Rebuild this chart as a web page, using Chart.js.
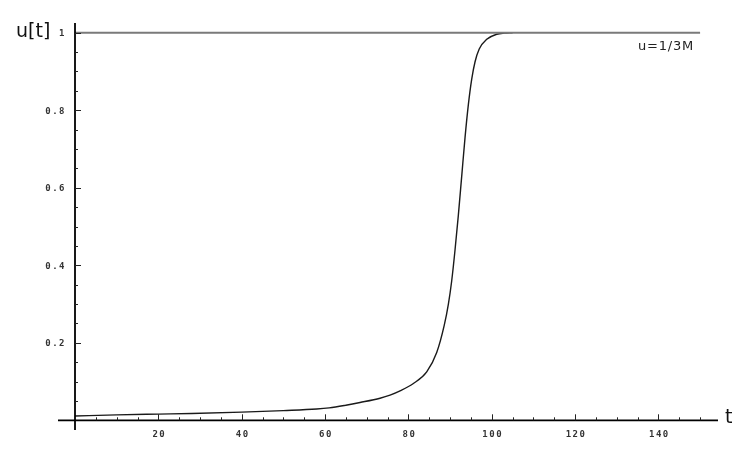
<!DOCTYPE html>
<html>
<head>
<meta charset="utf-8">
<script src="https://cdn.jsdelivr.net/npm/chart.js@4/dist/chart.umd.min.js"></script>
<style>
html,body{margin:0;padding:0;background:#fff;}
canvas{display:block;}
</style>
</head>
<body>
<canvas id="c" width="747" height="462"></canvas>
<script>
// ---- data ----
const tValues = [0, 10, 20, 28, 40, 50, 58, 61, 65, 68.4, 73.2, 75.6, 78, 81.2, 84.4, 86.8, 88.6, 89.6, 90.4, 91.2, 92, 92.8, 93.6, 94.4, 95.2, 96, 97, 98.8, 101.2, 103, 105];
const uValues = [0.011, 0.014, 0.016, 0.0175, 0.021, 0.025, 0.029, 0.032, 0.039, 0.046, 0.057, 0.065, 0.076, 0.095, 0.125, 0.175, 0.245, 0.30, 0.36, 0.44, 0.53, 0.63, 0.73, 0.815, 0.88, 0.925, 0.958, 0.983, 0.996, 0.999, 1.0];
const limitT = [0, 150];
const limitU = [1, 1];
const limitLabel = 'u=1/3M';
const xMajorTicks = [20, 40, 60, 80, 100, 120, 140];
const xTickLabels = ['20', '40', '60', '80', '100', '120', '140'];
const yMajorTicks = [0.2, 0.4, 0.6, 0.8, 1];
const yTickLabels = ['0.2', '0.4', '0.6', '0.8', '1'];
const xMinorStep = 5, xMinorMax = 150;
const yMinorStep = 0.05, yMinorMax = 1;
const xAxisTitle = 't';
const yAxisTitle = 'u[t]';

const curve = tValues.map((t, i) => ({x: t, y: uValues[i]}));
const limit = limitT.map((t, i) => ({x: t, y: limitU[i]}));

const axesPlugin = {
  id: 'mathAxes',
  afterDatasetsDraw(chart) {
    const ctx = chart.ctx;
    const xs = chart.scales.x, ys = chart.scales.y;
    const ca = chart.chartArea;
    const x0 = xs.getPixelForValue(0), y0 = ys.getPixelForValue(0);
    ctx.save();
    ctx.strokeStyle = '#000';
    ctx.lineWidth = 1.8;
    ctx.beginPath();
    ctx.moveTo(ca.left, y0); ctx.lineTo(ca.right, y0);
    ctx.moveTo(x0, ca.top); ctx.lineTo(x0, ca.bottom);
    ctx.stroke();
    // ticks
    ctx.lineWidth = 1;
    ctx.strokeStyle = '#222';
    ctx.beginPath();
    for (let v = xMinorStep; v <= xMinorMax + 1e-9; v += xMinorStep) {
      const px = Math.round(xs.getPixelForValue(v)) + 0.5;
      const major = xMajorTicks.some(m => Math.abs(m - v) < 1e-6);
      ctx.moveTo(px, y0); ctx.lineTo(px, y0 - (major ? 6 : 3));
    }
    for (let v = yMinorStep; v <= yMinorMax + 1e-9; v += yMinorStep) {
      const py = Math.round(ys.getPixelForValue(v)) + 0.5;
      const major = yMajorTicks.some(m => Math.abs(m - v) < 1e-6);
      ctx.moveTo(x0, py); ctx.lineTo(x0 + (major ? 6 : 3), py);
    }
    ctx.stroke();
    // tick labels
    ctx.fillStyle = '#333';
    ctx.font = 'bold 9px "DejaVu Sans Mono"';
    ctx.letterSpacing = '1.5px';
    ctx.textAlign = 'center';
    ctx.textBaseline = 'middle';
    xMajorTicks.forEach((v, i) => {
      ctx.fillText(xTickLabels[i], xs.getPixelForValue(v) + 1, y0 + 14);
    });
    ctx.textAlign = 'right';
    yMajorTicks.forEach((v, i) => {
      ctx.fillText(yTickLabels[i], x0 - 9, ys.getPixelForValue(v) + 1);
    });
    // axis titles
    ctx.letterSpacing = '0px';
    ctx.fillStyle = '#111';
    ctx.font = '19px "DejaVu Sans"';
    ctx.textAlign = 'left';
    ctx.textBaseline = 'middle';
    ctx.fillText(xAxisTitle, ca.right + 7, y0 - 2);
    ctx.fillText(yAxisTitle, 16, ys.getPixelForValue(1) - 1);
    // limit label
    ctx.font = '13px "DejaVu Sans"';
    ctx.letterSpacing = '0.8px';
    ctx.fillStyle = '#222';
    ctx.textAlign = 'right';
    ctx.fillText(limitLabel, xs.getPixelForValue(limitT[1]) - 6, ys.getPixelForValue(1) + 14);
    ctx.restore();
  }
};

new Chart(document.getElementById('c'), {
  type: 'scatter',
  data: {
    datasets: [
      {data: limit, showLine: true, borderColor: '#7a7a7a', borderWidth: 2, pointRadius: 0, tension: 0},
      {data: curve, showLine: true, borderColor: '#1a1a1a', borderWidth: 1.4, pointRadius: 0, cubicInterpolationMode: 'monotone'}
    ]
  },
  options: {
    responsive: false,
    animation: false,
    devicePixelRatio: 1,
    layout: {padding: {left: 58, right: 29, top: 23, bottom: 32}},
    plugins: {legend: {display: false}, tooltip: {enabled: false}},
    scales: {
      x: {type: 'linear', min: -4.08, max: 154.3, display: false},
      y: {type: 'linear', min: -0.025, max: 1.025, display: false}
    }
  },
  plugins: [axesPlugin]
});
</script>
</body>
</html>
